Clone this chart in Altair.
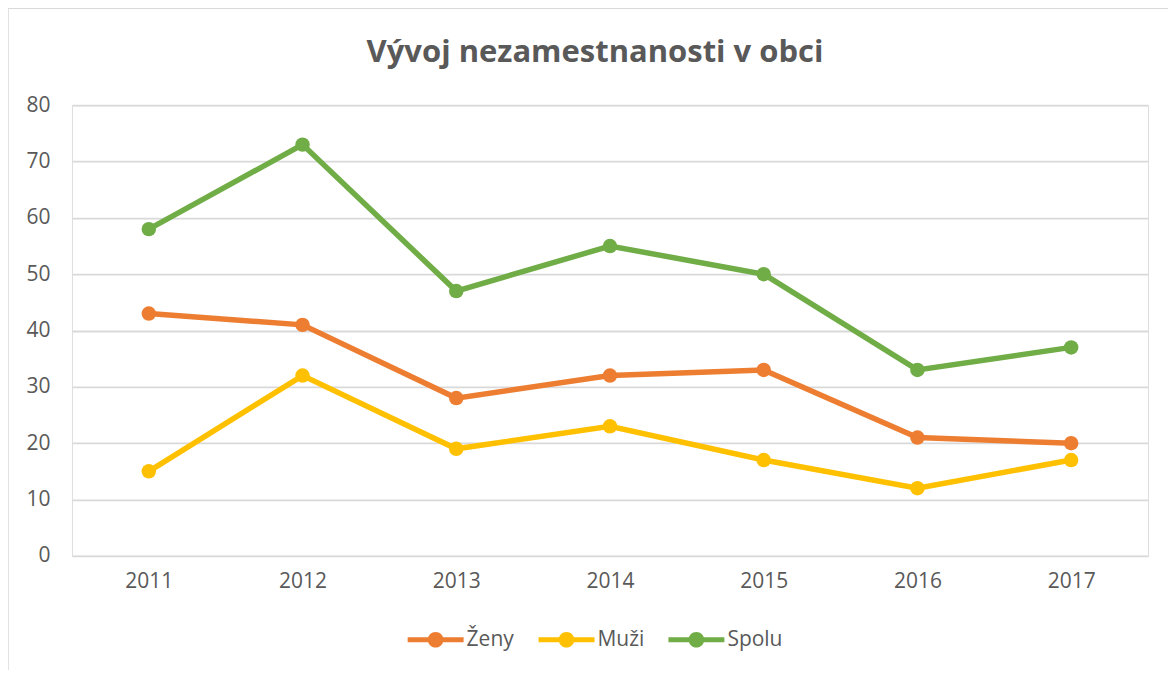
import altair as alt
import pandas as pd

years = ["2011", "2012", "2013", "2014", "2015", "2016", "2017"]
zeny = [43, 41, 28, 32, 33, 21, 20]
muzi = [15, 32, 19, 23, 17, 12, 17]
spolu = [58, 73, 47, 55, 50, 33, 37]
series = ["Ženy", "Muži", "Spolu"]
colors = ["#ED7D31", "#FFC000", "#70AD47"]
title = "Vývoj nezamestnanosti v obci"

rows = []
for name, vals in zip(series, [zeny, muzi, spolu]):
    for y, v in zip(years, vals):
        rows.append({"rok": y, "hodnota": v, "séria": name})
df = pd.DataFrame(rows)

W, H = 1077, 451
FONT = "Open Sans"
GRAY = "#595959"

x = alt.X(
    "rok:O",
    sort=years,
    scale=alt.Scale(paddingOuter=0.5),
    axis=alt.Axis(
        title=None, labelAngle=0, ticks=False, domain=False,
        labelPadding=15, labelFontSize=21, labelColor=GRAY, labelFont=FONT,
    ),
)
y = alt.Y(
    "hodnota:Q",
    scale=alt.Scale(domain=[0, 80]),
    axis=alt.Axis(
        title=None, values=list(range(0, 81, 10)), ticks=False, domain=False,
        labelPadding=22, labelFontSize=21, labelColor=GRAY, labelFont=FONT,
        gridColor="#D9D9D9", gridWidth=1.8,
    ),
)

# line with a dot in the middle, all sub-paths wound the same way
legend_path = (
    "M-1,-0.09 L1,-0.09 L1,0.09 L-1,0.09 Z "
    "M-0.28,0 A0.28,0.28 0 1,1 0.28,0 A0.28,0.28 0 1,1 -0.28,0 Z"
)

base = alt.Chart(df)
lines = base.mark_line(strokeWidth=5.5).encode(
    x=x, y=y,
    color=alt.Color("séria:N", scale=alt.Scale(domain=series, range=colors), legend=None),
    detail="séria:N",
)
points = base.mark_point(filled=True, size=210, opacity=1).encode(
    x=x, y=y,
    color=alt.Color(
        "séria:N",
        scale=alt.Scale(domain=series, range=colors),
        sort=series,
        legend=alt.Legend(
            title=None, orient="none", direction="horizontal",
            legendX=336, legendY=507,
            symbolType=legend_path, symbolSize=3136, symbolStrokeWidth=0,
            labelFontSize=21, labelColor=GRAY, labelFont=FONT,
            columnPadding=24, labelOffset=3, symbolOpacity=1,
        ),
    ),
)

frame = alt.Chart(pd.DataFrame({"a": [0]})).mark_rect(
    fill=None, stroke="#D9D9D9", strokeWidth=1.5, clip=False
).encode(
    x=alt.value(-64), x2=alt.value(1140), y=alt.value(-97), y2=alt.value(600)
)

chart = alt.layer(frame, lines, points).resolve_legend(
    color="independent"
).properties(
    width=W, height=H,
    title=alt.TitleParams(
        title, fontSize=31, font=FONT, fontWeight="bold", color=GRAY,
        anchor="middle", offset=0, dy=62, dx=-15, frame="group",
    ),
    autosize=alt.AutoSizeParams(type="none"),
    padding={"left": 64, "top": 97, "right": 20, "bottom": 114},
).configure_view(strokeWidth=0).configure(background="white")

chart.save("out.html", embed_options={"renderer": "svg", "actions": False})
